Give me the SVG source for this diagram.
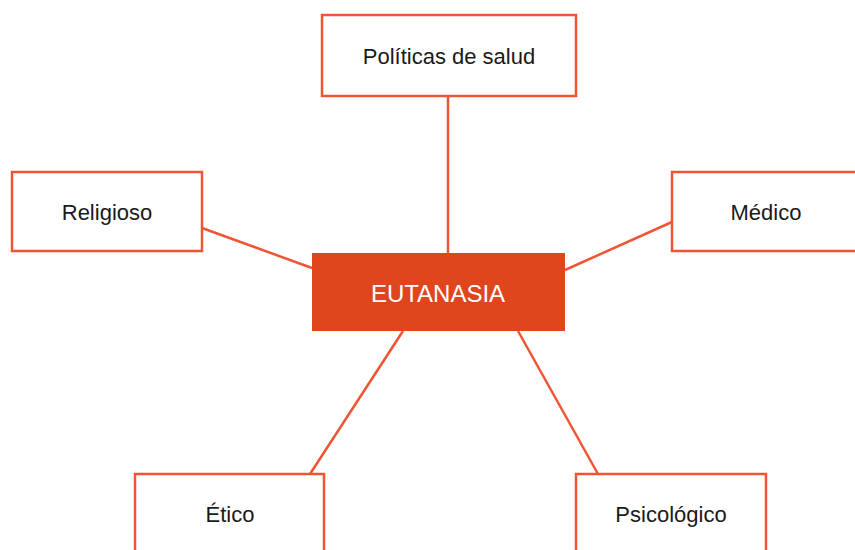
<svg xmlns="http://www.w3.org/2000/svg" width="855" height="550" viewBox="0 0 855 550">
<style>
.box{fill:#fff;stroke:#EF5535;stroke-width:2.5}
.conn line{stroke:#EF5535;stroke-width:2.5}
.t{font-family:"Liberation Sans",Arial,sans-serif;font-size:22px;fill:#1a1a1a;text-anchor:middle}
.c{font-family:"Liberation Sans",Arial,sans-serif;font-size:24px;fill:#fff;text-anchor:middle}
</style>
<rect width="855" height="550" fill="#fff"/>
<g class="conn" id="connectors">
<line x1="448" y1="96" x2="448" y2="253"/>
<line x1="202" y1="228" x2="312" y2="268"/>
<line x1="672" y1="222" x2="565" y2="270"/>
<line x1="403" y1="331" x2="310" y2="474"/>
<line x1="518" y1="331" x2="598" y2="474"/>
</g>
<g id="politicas"><rect class="box" x="322" y="15" width="254" height="81"/><text class="t" x="449" y="64">Políticas de salud</text></g>
<g id="religioso"><rect class="box" x="12" y="172" width="190" height="79"/><text class="t" x="107" y="220">Religioso</text></g>
<g id="medico"><rect class="box" x="672" y="172" width="190" height="79"/><text class="t" x="766" y="220">Médico</text></g>
<g id="eutanasia"><rect x="312" y="253" width="253" height="78" fill="#E0461E"/><text class="c" x="438" y="302">EUTANASIA</text></g>
<g id="etico"><rect class="box" x="135" y="474" width="189" height="90"/><text class="t" x="230" y="522">Ético</text></g>
<g id="psicologico"><rect class="box" x="576" y="474" width="190" height="90"/><text class="t" x="671" y="522">Psicológico</text></g>
</svg>
